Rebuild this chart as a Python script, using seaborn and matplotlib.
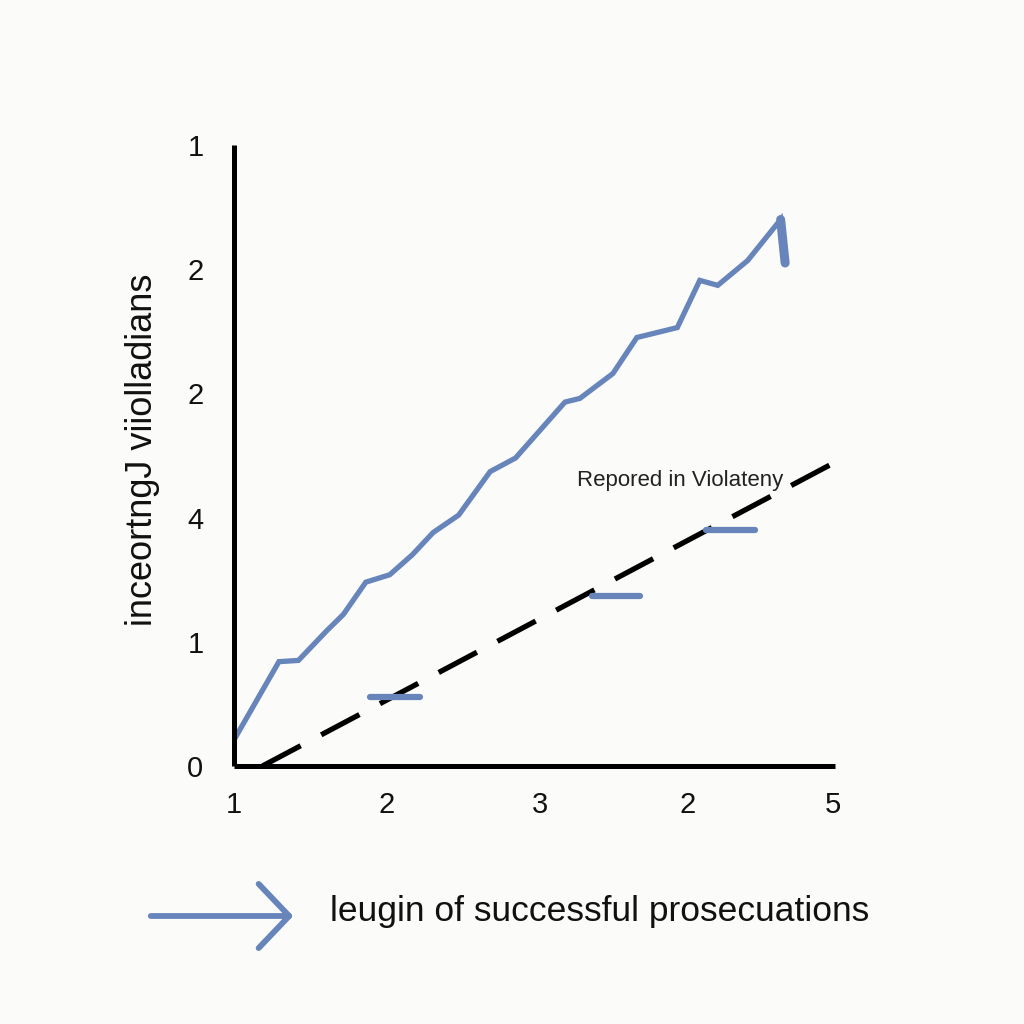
import numpy as np
import pandas as pd
import matplotlib
matplotlib.use("Agg")
import matplotlib.pyplot as plt
import seaborn as sns

# ---- data ----
blue_x = [1.00, 1.30, 1.43, 1.62, 1.73, 1.88, 2.04, 2.19, 2.33, 2.50, 2.71, 2.88,
          3.21, 3.31, 3.53, 3.69, 3.96, 4.11, 4.23, 4.43, 4.65, 4.68]
blue_y = [0.21, 0.84, 0.85, 1.09, 1.22, 1.48, 1.54, 1.70, 1.88, 2.02, 2.37, 2.48,
          2.93, 2.96, 3.16, 3.45, 3.53, 3.91, 3.87, 4.07, 4.40, 4.05]

dash_x = [1.19, 5.02]
dash_y = [0.00, 2.45]

seg_x0 = [1.91, 3.39, 4.15]
seg_x1 = [2.24, 3.71, 4.48]
seg_y = [0.556, 1.37, 1.90]

x_tick_pos = [1, 2.02, 3.04, 4.03, 5]
x_tick_labels = ["1", "2", "3", "2", "5"]
y_tick_pos = [0, 1, 2, 3, 4, 5]
y_tick_labels = ["0", "1", "4", "2", "2", "1"]

y_label = "inceortngJ viiolladians"
annot_text = "Repored in Violateny"
legend_text = "leugin of successful prosecuations"

BLUE = "#6785bb"
BG = "#fbfbf9"

sns.set_theme(style="white")
plt.rcParams["font.family"] = ["Liberation Sans", "DejaVu Sans"]

fig = plt.figure(figsize=(10.24, 10.24), dpi=100, facecolor=BG)
ax = fig.add_axes([234 / 1024, 1 - 766 / 1024, (835 - 234) / 1024, (766 - 145) / 1024])
ax.set_facecolor(BG)

df_blue = pd.DataFrame({"x": blue_x, "y": blue_y})
sns.lineplot(data=df_blue, x="x", y="y", sort=False, estimator=None, ax=ax,
             color=BLUE, linewidth=3.8, solid_joinstyle="miter", solid_capstyle="round")
# thicker hook at the end of the series
sns.lineplot(data=df_blue.iloc[-2:], x="x", y="y", sort=False, estimator=None, ax=ax,
             color=BLUE, linewidth=6.5, solid_capstyle="round")

df_dash = pd.DataFrame({"x": dash_x, "y": dash_y})
line_d = sns.lineplot(data=df_dash, x="x", y="y", sort=False, estimator=None, ax=ax,
                      color="black", linewidth=3.8, linestyle=(0, (8.2, 4.4)),
                      dash_capstyle="butt")
ax.lines[-1].set_clip_on(False)

ax.hlines(seg_y, seg_x0, seg_x1, color=BLUE, linewidth=4.5, capstyle="round")

ax.text(3.29, 2.30, annot_text, fontsize=16, color="#222222", ha="left", va="center")

ax.set_xlim(1, 5.013)
ax.set_ylim(0, 5)
ax.set_xticks(x_tick_pos)
ax.set_xticklabels(x_tick_labels)
ax.set_yticks(y_tick_pos)
ax.set_yticklabels(y_tick_labels)
ax.tick_params(axis="both", length=0, labelsize=21, colors="#111111")
ax.tick_params(axis="x", pad=18)
ax.tick_params(axis="y", pad=22)
ax.set_xlabel("")
ax.set_ylabel("")

for s in ["top", "right"]:
    ax.spines[s].set_visible(False)
for s in ["left", "bottom"]:
    ax.spines[s].set_color("black")
    ax.spines[s].set_linewidth(3.6)
    ax.spines[s].set_capstyle("butt")

fig.text(143 / 1024, 1 - 450 / 1024, y_label, rotation=90, fontsize=26,
         ha="center", va="center", color="#111111")

# legend-like arrow and label at the bottom
fig.patches.append(matplotlib.patches.FancyArrowPatch(
    (148 / 1024, 1 - 916 / 1024), (296 / 1024, 1 - 916 / 1024),
    transform=fig.transFigure, arrowstyle="->,head_length=1.0,head_width=1.05",
    mutation_scale=22, color=BLUE, linewidth=4.2))
fig.text(330 / 1024, 1 - 912 / 1024, legend_text, fontsize=25.5, ha="left", va="center",
         color="#111111")

fig.savefig("out.png", dpi=100, facecolor=BG)
